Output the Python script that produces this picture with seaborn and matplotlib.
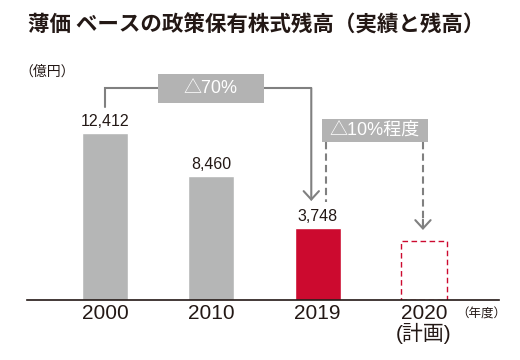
import numpy as np
import pandas as pd
import matplotlib
matplotlib.use("Agg")
import matplotlib.pyplot as plt
import seaborn as sns
from matplotlib.patches import Rectangle

sns.set_theme(style="white")
plt.rcParams['font.family'] = ['Liberation Sans', 'Noto Sans CJK JP', 'DejaVu Sans']

# --- data -------------------------------------------------------------------
years = ['2000', '2010', '2019', '2020']
tick_labels = ['2000', '2010', '2019', '2020\n(計画)']
balances = [12412, 8460, 3748, 2550]          # 2020 = plan
value_labels = ['12,412', '8,460', '3,748', '']
bar_colors = ['#b5b6b6', '#b5b6b6', '#cc0a2f', '#ffffff']

title = '薄価 ベースの政策保有株式残高（実績と残高）'
unit_label = '（億円）'
year_label = '（年度）'
drop_total = '△70%'
drop_plan = '△10%程度'

# axis floor sits below zero (bars in the original start below the value 0)
FLOOR = -2830
TOP = 19070

LINE = '#808080'
BOX = '#b3b3b3'
RED = '#cc0a2f'
INK = '#231815'

df = pd.DataFrame({'year': years, 'height': np.array(balances) - FLOOR})

fig = plt.figure(figsize=(5.2, 3.6), dpi=100)
ax = fig.add_axes([27 / 520, 60 / 360, 472 / 520, 240 / 360])

sns.barplot(data=df, x='year', y='height', hue='year', palette=bar_colors,
            bottom=FLOOR, width=0.432, legend=False, saturation=1, ax=ax)

# 2020 plan bar: dashed red outline
plan = ax.patches[3]
plan.set_facecolor('white')
plan.set_edgecolor(RED)
plan.set_linewidth(1.0)
plan.set_linestyle((0, (4, 2.5)))

ax.set_xlim(-0.733, 3.705)
ax.set_ylim(FLOOR, TOP)

for i, (v, lab) in enumerate(zip(balances, value_labels)):
    if lab:
        ax.annotate(lab, (i, v), xytext=(0, 3), textcoords='offset points',
                    ha='center', va='bottom', fontsize=11.5, color=INK)

# △70% bracket
ax.plot([0, 0, 1.94], [14779, 16513, 16513], color=LINE, lw=1.5,
        clip_on=False, solid_joinstyle='miter')
ax.annotate('', xy=(1.94, 6203), xytext=(1.94, 16513),
            arrowprops=dict(arrowstyle='->,head_length=0.6,head_width=0.55',
                            color=LINE, lw=1.5, shrinkA=0, shrinkB=0,
                            mutation_scale=10, joinstyle='miter'))
ax.add_patch(Rectangle((0.498, 15144), 0.996, 2646, facecolor=BOX,
                       edgecolor='none', zorder=3, clip_on=False))
ax.text(0.996, 16467, drop_total, ha='center', va='center', fontsize=13,
        color='white', zorder=4)

# △10% bracket (dashed)
ax.plot([2.077, 2.077], [11586, 6112], color=LINE, lw=1.5,
        ls=(0, (3.5, 2)), clip_on=False)
ax.plot([2.99, 2.99], [11586, 3700], color=LINE, lw=1.5,
        ls=(0, (3.5, 2)), clip_on=False)
ax.annotate('', xy=(2.99, 3557), xytext=(2.99, 4500),
            arrowprops=dict(arrowstyle='->,head_length=0.6,head_width=0.55',
                            color=LINE, lw=1.5, shrinkA=0, shrinkB=0,
                            mutation_scale=10))
ax.add_patch(Rectangle((2.04, 11586), 0.996, 2099, facecolor=BOX,
                       edgecolor='none', zorder=3, clip_on=False))
ax.text(2.538, 12636, drop_plan, ha='center', va='center', fontsize=13,
        color='white', zorder=4)

# axes styling
for side in ['top', 'right', 'left']:
    ax.spines[side].set_visible(False)
ax.spines['bottom'].set_color('#231815')
ax.spines['bottom'].set_linewidth(1.2)
ax.set_yticks([])
ax.set_xticks(range(len(years)))
ax.set_xticklabels(tick_labels, fontsize=15, color=INK, linespacing=1.0)
ax.tick_params(axis='x', length=0, pad=3)
ax.set_xlabel('')
ax.set_ylabel('')

fig.text(28 / 520, 1 - 14 / 360, title, fontsize=15.5, fontweight='bold',
         color=INK, va='top', ha='left', family=['Noto Sans CJK JP'])
fig.text(19 / 520, 1 - 65 / 360, unit_label, fontsize=10, color=INK,
         va='top', ha='left', family=['Noto Sans CJK JP'])
fig.text(456 / 520, 1 - 308 / 360, year_label, fontsize=9, color=INK,
         va='top', ha='left', family=['Noto Sans CJK JP'])

fig.savefig('out.png', dpi=100, facecolor='white')
